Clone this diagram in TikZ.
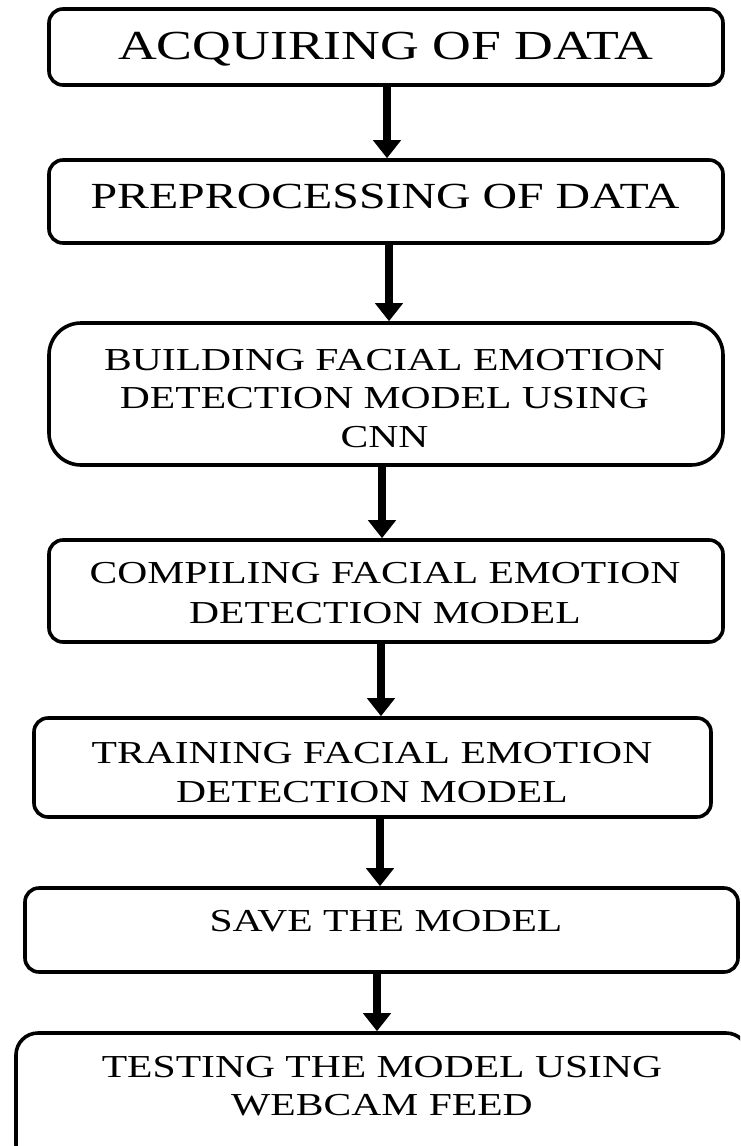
\documentclass[tikz,border=0pt]{standalone}
\usepackage{fontspec}
\newfontfamily\boxfont[FakeStretch=1.3]{Liberation Serif}
\usetikzlibrary{arrows.meta}
\begin{document}
\begin{tikzpicture}[x=1pt,y=-1pt,
  box/.style={draw, line width=3.6pt, rounded corners=14pt, inner sep=0pt},
  arr/.style={line width=8pt, -{Triangle[width=27pt,length=18pt]}},
  txt/.style={anchor=base, inner sep=0pt},
  fA/.style={txt, font=\boxfont\fontsize{41.3}{48}\selectfont},
  fB/.style={txt, font=\boxfont\fontsize{36.8}{43}\selectfont},
  fC/.style={txt, font=\boxfont\fontsize{32}{38}\selectfont}]
\clip (0,0) rectangle (740,1146);
\fill[white] (0,0) rectangle (740,1146);
% boxes
\node[box, minimum width=674pt, minimum height=76pt] (b1) at (386,47) {};
\node[box, minimum width=674pt, minimum height=83pt] (b2) at (386,201.5) {};
\node[box, rounded corners=32pt, minimum width=674pt, minimum height=142pt] (b3) at (386,394) {};
\node[box, minimum width=674pt, minimum height=102pt] (b4) at (386,591) {};
\node[box, minimum width=677pt, minimum height=99pt] (b5) at (372.5,767.5) {};
\node[box, minimum width=713pt, minimum height=84pt] (b6) at (381.5,930) {};
\node[box, rounded corners=22pt, minimum width=732pt, minimum height=134pt] (b7) at (382,1100) {};
% texts
\node[fA] (t1) at (386,59) {ACQUIRING OF DATA};
\node[fB] (t2) at (385,208) {PREPROCESSING OF DATA};
\node[fC] (t3a) at (384.5,370) {BUILDING FACIAL EMOTION};
\node[fC] (t3b) at (384.5,408.5) {DETECTION MODEL USING};
\node[fC] (t3c) at (384.5,447) {CNN};
\node[fC] (t4a) at (385,583) {COMPILING FACIAL EMOTION};
\node[fC] (t4b) at (385,623) {DETECTION MODEL};
\node[fC] (t5a) at (372,763) {TRAINING FACIAL EMOTION};
\node[fC] (t5b) at (372,802) {DETECTION MODEL};
\node[fC] (t6) at (386,931) {SAVE THE MODEL};
\node[fC] (t7a) at (382,1077) {TESTING THE MODEL USING};
\node[fC] (t7b) at (382,1115) {WEBCAM FEED};
% arrows
\draw[arr] ([xshift=1pt]b1.south) -- ([xshift=1pt]b1.south |- b2.north);
\draw[arr] ([xshift=3pt]b2.south) -- ([xshift=3pt]b2.south |- b3.north);
\draw[arr] ([xshift=-4pt]b3.south) -- ([xshift=-4pt]b3.south |- b4.north);
\draw[arr] ([xshift=-5pt]b4.south) -- ([xshift=-5pt]b4.south |- b5.north);
\draw[arr] ([xshift=7.5pt]b5.south) -- ([xshift=7.5pt]b5.south |- b6.north);
\draw[arr] ([xshift=-4.5pt]b6.south) -- ([xshift=-4.5pt]b6.south |- b7.north);
\end{tikzpicture}
\end{document}
